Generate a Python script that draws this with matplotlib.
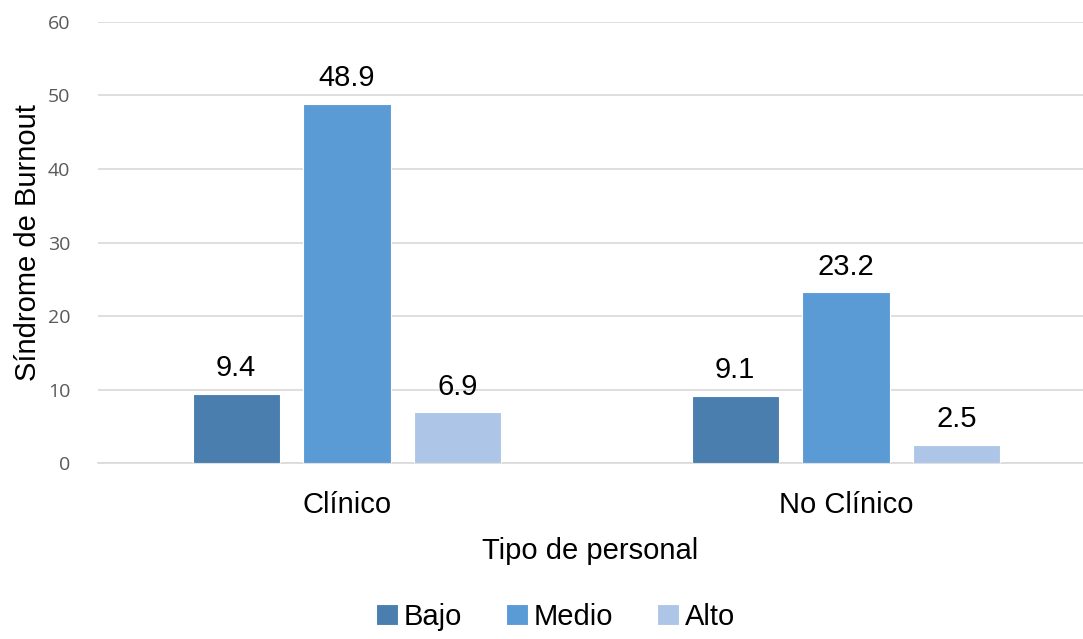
import numpy as np
import matplotlib.pyplot as plt

# burnout levels by staff type (%)
categories = ['Clínico', 'No Clínico']
levels = ['Bajo', 'Medio', 'Alto']
bajo = [9.4, 9.1]
medio = [48.9, 23.2]
alto = [6.9, 2.5]
y_ticks = [0, 10, 20, 30, 40, 50, 60]

colors = ['#4a7eae', '#5b9bd5', '#adc5e6']

plt.rcParams['font.family'] = ['Liberation Sans', 'DejaVu Sans']

fig = plt.figure(figsize=(10.83, 6.39), dpi=100)
ax = fig.add_axes([0.0905, 0.2754, 0.9095, 0.6902])

x = np.arange(len(categories))
width = 0.175
step = 0.222

for i, (vals, name) in enumerate(zip([bajo, medio, alto], levels)):
    pos = x + (i - 1) * step
    bars = ax.bar(pos, vals, width, color=colors[i], label=name,
                  edgecolor='white', linewidth=0.8, zorder=3)
    for b, v in zip(bars, vals):
        ax.text(b.get_x() + b.get_width() / 2, v + 1.6, f'{v:.1f}',
                ha='center', va='bottom', fontsize=21, color='black')

ax.set_ylim(0, 60)
ax.set_yticks(y_ticks)
ax.set_xlim(-0.499, 1.475)
ax.set_xticks(x)
ax.set_xticklabels(categories, fontsize=21)
ax.tick_params(axis='x', length=0, pad=20)
ax.tick_params(axis='y', length=0, pad=20, labelsize=14, labelcolor='#595959')
for lbl in ax.get_yticklabels():
    lbl.set_family(['Open Sans', 'DejaVu Sans'])

ax.grid(axis='y', color='#d9d9d9', linewidth=1.2, zorder=0)
for s in ['top', 'right', 'left']:
    ax.spines[s].set_visible(False)
ax.spines['bottom'].set_color('#d9d9d9')
ax.spines['bottom'].set_linewidth(1.2)

ax.set_xlabel('Tipo de personal', fontsize=21, labelpad=13)
ax.set_ylabel('Síndrome de Burnout', fontsize=21, labelpad=4)

fig.legend(loc='lower center', bbox_to_anchor=(0.513, -0.028), ncol=3,
           frameon=False, fontsize=21, handlelength=0.75, handleheight=0.75,
           handletextpad=0.2, columnspacing=1.5)

fig.savefig('out.png', dpi=100)
